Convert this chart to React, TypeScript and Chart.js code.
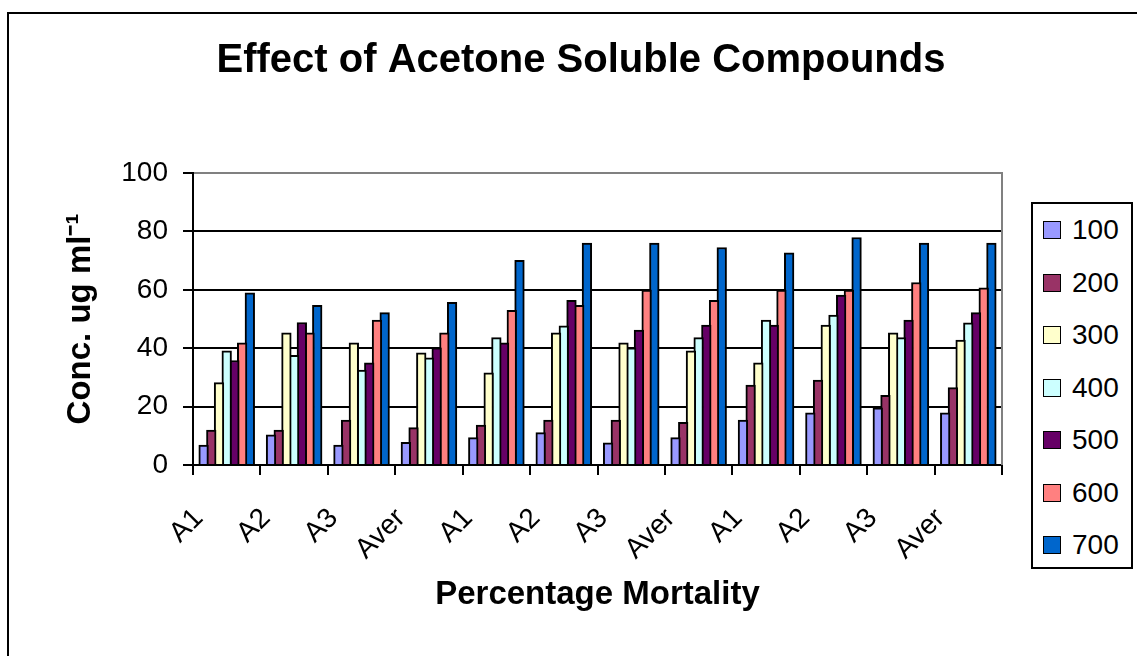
import React, { useEffect, useRef } from 'react';
import { Chart, registerables } from 'chart.js';

Chart.register(...registerables);

const categories = ['A1', 'A2', 'A3', 'Aver', 'A1', 'A2', 'A3', 'Aver', 'A1', 'A2', 'A3', 'Aver'];
const seriesNames = ['100', '200', '300', '400', '500', '600', '700'];
const s100 = [6.8, 10.3, 6.8, 7.8, 9.4, 11.1, 7.6, 9.4, 15.4, 17.9, 19.6, 17.9];
const s200 = [12.0, 12.0, 15.4, 12.8, 13.7, 15.4, 15.4, 14.6, 27.4, 29.1, 23.9, 26.5];
const s300 = [28.2, 45.3, 41.8, 38.4, 31.6, 45.3, 41.8, 39.1, 35.0, 47.9, 45.3, 42.8];
const s400 = [39.1, 37.6, 32.5, 36.7, 43.6, 47.7, 40.1, 43.6, 49.6, 51.3, 43.6, 48.7];
const s500 = [35.8, 48.8, 35.0, 40.1, 41.8, 56.4, 46.2, 47.9, 47.9, 58.2, 49.6, 52.2];
const s600 = [41.8, 45.3, 49.6, 45.3, 53.0, 54.7, 59.9, 56.4, 59.9, 59.9, 62.5, 60.7];
const s700 = [59.0, 54.7, 52.2, 55.7, 70.1, 76.0, 76.0, 74.5, 72.7, 77.9, 76.0, 76.0];
const seriesColors = ['#9999FF', '#993366', '#FFFFCC', '#CCFFFF', '#660066', '#FF8080', '#0066CC'];
const yMin = 0;
const yMax = 100;
const yStep = 20;

const titleText = 'Effect of Acetone Soluble Compounds';
const xTitle = 'Percentage Mortality';
const yTitle = 'Conc. ug ml\u207B\u00B9';

const FONT = "'Liberation Sans', Arial, Helvetica, sans-serif";

export default function App() {
  const ref = useRef<HTMLCanvasElement>(null);

  useEffect(() => {
    const seriesValues = [s100, s200, s300, s400, s500, s600, s700];
    const frame = {
      id: 'frame',
      afterDraw(chart: any) {
        const { ctx, chartArea: a } = chart;
        ctx.save();
        // plot area right border
        ctx.strokeStyle = '#808080';
        ctx.lineWidth = 2;
        ctx.beginPath();
        ctx.moveTo(a.right, a.top - 1);
        ctx.lineTo(a.right, a.bottom);
        ctx.stroke();
        // chart title
        ctx.fillStyle = '#000';
        ctx.font = `bold 40px ${FONT}`;
        ctx.textAlign = 'center';
        ctx.textBaseline = 'middle';
        ctx.fillText(titleText, 581, 61);
        ctx.restore();
      },
    };
    const chart = new Chart(ref.current as HTMLCanvasElement, {
      type: 'bar',
      data: {
        labels: categories,
        datasets: seriesNames.map((n, i) => ({
          label: n,
          data: seriesValues[i],
          backgroundColor: seriesColors[i],
          borderColor: '#000',
          borderWidth: 2,
          categoryPercentage: 0.8,
          barPercentage: 1.25,
        })),
      },
      options: {
        animation: false,
        responsive: false,
        devicePixelRatio: 1,
        layout: { padding: { left: 57, right: 135, top: 173, bottom: 37 } },
        plugins: {
          legend: { display: false },
          tooltip: { enabled: false },
          title: { display: false },
        },
        scales: {
          x: {
            grid: {
              offset: true,
              drawOnChartArea: false,
              drawTicks: true,
              tickLength: 10,
              color: '#000',
              lineWidth: 2,
            },
            border: { color: '#000', width: 2 },
            ticks: {
              autoSkip: false,
              minRotation: 45,
              maxRotation: 45,
              padding: 27,
              labelOffset: -28,
              color: '#000',
              font: { family: FONT, size: 28 },
            },
            title: {
              display: true,
              text: xTitle,
              color: '#000',
              font: { family: FONT, size: 33, weight: 'bold' },
              padding: { top: 4, bottom: 4 },
            },
            afterFit: (s: any) => {
              s.height = 154;
            },
          },
          y: {
            min: yMin,
            max: yMax,
            ticks: {
              stepSize: yStep,
              padding: 15,
              color: '#000',
              font: { family: FONT, size: 28 },
            },
            grid: {
              color: (c: any) => (c.tick && c.tick.value === yMax ? '#808080' : '#000'),
              tickColor: '#000',
              lineWidth: 2,
              tickLength: 10,
            },
            border: { color: '#000', width: 2 },
            title: {
              display: true,
              text: yTitle,
              color: '#000',
              font: { family: FONT, size: 33, weight: 'bold' },
              padding: { top: 4, bottom: 4 },
            },
            afterFit: (s: any) => {
              s.width = 136;
            },
          },
        },
      },
      plugins: [frame],
    } as any);
    return () => chart.destroy();
  }, []);

  return (
    <div
      style={{
        position: 'absolute',
        left: 0,
        top: 0,
        width: 1137,
        height: 656,
        overflow: 'hidden',
        background: '#fff',
      }}
    >
      <div
        style={{
          position: 'absolute',
          left: 7,
          top: 12,
          width: 1300,
          height: 800,
          border: '2px solid #000',
        }}
      />
      <canvas
        ref={ref}
        width={1137}
        height={656}
        style={{ position: 'absolute', left: 0, top: 0, width: 1137, height: 656 }}
      />
      <div
        style={{
          position: 'absolute',
          left: 1031,
          top: 202,
          width: 102,
          height: 367,
          border: '2px solid #000',
          boxSizing: 'border-box',
          background: '#fff',
          fontFamily: FONT,
        }}
      >
        {seriesNames.map((n, i) => (
          <React.Fragment key={n}>
            <div
              style={{
                position: 'absolute',
                left: 10,
                top: 17 + 52.5 * i,
                width: 18,
                height: 18,
                boxSizing: 'border-box',
                border: '1.5px solid #000',
                background: seriesColors[i],
              }}
            />
            <div
              style={{
                position: 'absolute',
                left: 39,
                top: 10.3 + 52.5 * i,
                fontSize: 28,
                lineHeight: '32px',
                color: '#000',
                whiteSpace: 'nowrap',
              }}
            >
              {n}
            </div>
          </React.Fragment>
        ))}
      </div>
    </div>
  );
}
